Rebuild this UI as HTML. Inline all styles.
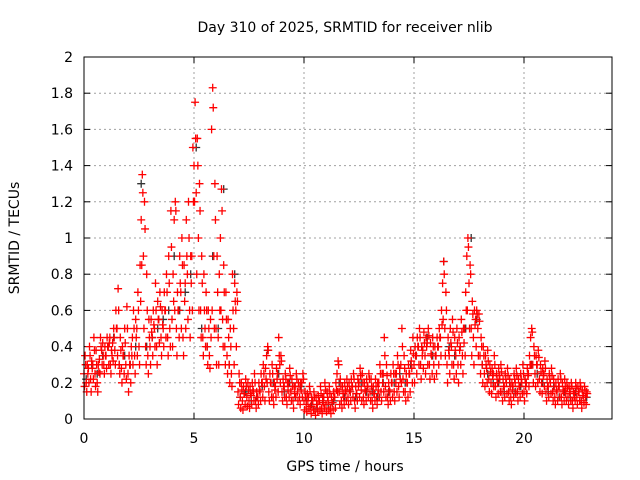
<!DOCTYPE html>
<html><head><meta charset="utf-8"><style>
body{margin:0;background:#fff}
svg{display:block;font-family:"DejaVu Sans","Liberation Sans",sans-serif}
</style></head><body>
<svg id="chart" width="640" height="480" viewBox="0 0 640 480">
<rect width="640" height="480" fill="#fff"/>
<text x="345" y="32" font-size="14" text-anchor="middle" fill="#000">Day 310 of 2025, SRMTID for receiver nlib</text>
<text x="345" y="471" font-size="14" text-anchor="middle" fill="#000">GPS time / hours</text>
<text x="19" y="238" font-size="14" text-anchor="middle" fill="#000" transform="rotate(-90 19 238)">SRMTID / TECUs</text>
<g id="grid"></g>
<g id="ticks"></g>
<g id="marks"></g>
<rect x="84" y="57" width="528" height="362" fill="none" stroke="#000" stroke-width="1"/>
</svg>
<script>
const xTicks=[0,5,10,15,20];
const yTicks=[0,0.2,0.4,0.6,0.8,1,1.2,1.4,1.6,1.8,2];
const yTickLabels=["0","0.2","0.4","0.6","0.8","1","1.2","1.4","1.6","1.8","2"];
const seriesMid=[.25,.2,.28,.22,.3,.25,.2,.33,.38,.3,
.35,.4,.3,.42,.38,.5,.3,.28,.35,.3,
.25,.3,.45,.35,.5,.4,1.1,.9,.4,.35,
.4,.45,.5,.4,.55,.45,.5,.6,.45,.5,
.55,1.1,.5,.6,.7,.45,.75,.8,.6,.9,
1.4,1.25,1.0,.6,.45,.5,.4,.35,1.6,.9,
.5,.45,1.0,.55,.4,.35,.3,.25,.5,.6,
.15,.12,.1,.14,.12,.1,.13,.15,.1,.12,
.15,.2,.18,.35,.15,.2,.12,.18,.25,.3,
.15,.18,.12,.2,.15,.1,.18,.15,.12,.2,
.1,.08,.12,.07,.1,.05,.08,.1,.06,.12,
.08,.1,.06,.09,.12,.25,.15,.1,.12,.15,
.12,.15,.18,.1,.14,.2,.16,.12,.15,.18,
.15,.1,.14,.12,.2,.15,.25,.18,.12,.15,
.2,.15,.25,.18,.3,.22,.15,.2,.25,.28,
.3,.35,.4,.3,.38,.35,.42,.3,.35,.3,
.35,.4,.45,.75,.5,.3,.35,.4,.3,.35,
.3,.4,.35,.5,.9,.75,.5,.45,.55,.5,
.35,.3,.25,.28,.22,.2,.25,.18,.2,.22,
.15,.18,.2,.15,.12,.18,.2,.15,.18,.2,
.15,.2,.25,.45,.3,.25,.3,.22,.2,.25,
.15,.18,.2,.15,.12,.15,.18,.12,.15,.14,
.12,.15,.1,.14,.12,.15,.1,.13,.12];
const seriesHigh=[.35,.3,.4,.32,.45,.38,.3,.45,.42,.4,
.45,.42,.38,.5,.6,.72,.45,.4,.5,.62,
.35,.4,.6,.55,.7,.85,1.35,1.2,.8,.55,
.55,.6,.75,.65,.7,.6,.7,.8,.9,1.15,
.8,1.2,.7,.9,1.0,.85,1.1,1.2,.9,1.5,
1.75,1.55,1.3,.9,.8,.7,.6,.55,1.83,1.3,
.9,.8,1.27,.85,.7,.55,.5,.8,.75,.7,
.25,.2,.18,.22,.2,.18,.2,.25,.15,.2,
.25,.3,.28,.4,.25,.3,.2,.28,.45,.35,
.22,.25,.2,.28,.22,.18,.25,.2,.2,.25,
.15,.14,.18,.12,.15,.12,.13,.18,.12,.2,
.15,.18,.12,.15,.2,.32,.22,.18,.2,.22,
.2,.22,.25,.18,.22,.28,.25,.2,.22,.25,
.22,.18,.22,.2,.3,.25,.45,.3,.2,.25,
.3,.25,.35,.28,.5,.35,.25,.3,.38,.45,
.4,.45,.5,.4,.48,.45,.5,.42,.45,.4,
.45,.5,.6,.87,.7,.45,.5,.55,.45,.5,
.45,.55,.5,.7,1.0,.85,.65,.6,.6,.58,
.45,.4,.35,.38,.3,.28,.35,.25,.28,.3,
.22,.25,.28,.22,.2,.25,.28,.22,.25,.3,
.22,.28,.35,.5,.4,.35,.38,.3,.28,.32,
.22,.25,.28,.22,.2,.22,.25,.2,.22,.2,
.18,.2,.15,.2,.18,.2,.16,.18,.15];
const seriesSpread=[.3,.25,.35,.28,.38,.3,.26,.4,.35,.35,
.4,.45,.35,.45,.5,.6,.38,.35,.42,.5,
.3,.35,.5,.45,.6,.65,1.25,1.05,.6,.45,
.48,.52,.6,.55,.62,.52,.6,.7,.75,.95,
.65,1.15,.6,.75,.85,.65,.9,1.0,.75,1.2,
1.55,1.4,1.15,.75,.6,.6,.5,.45,1.72,1.1,
.7,.6,1.15,.7,.55,.45,.4,.6,.65,.65,
.2,.16,.14,.18,.16,.14,.16,.2,.12,.16,
.2,.25,.22,.38,.2,.25,.16,.22,.35,.32,
.18,.22,.16,.24,.18,.14,.22,.18,.16,.22,
.12,.1,.15,.1,.12,.08,.1,.14,.09,.16,
.12,.14,.09,.12,.16,.3,.18,.14,.16,.18,
.16,.18,.22,.14,.18,.24,.2,.16,.18,.22,
.18,.14,.18,.16,.25,.2,.35,.24,.16,.2,
.25,.2,.3,.22,.4,.28,.2,.25,.32,.36,
.35,.4,.45,.35,.42,.4,.46,.36,.4,.35,
.4,.45,.52,.8,.6,.38,.42,.48,.38,.42,
.38,.48,.42,.6,.95,.8,.58,.52,.58,.54,
.4,.35,.3,.32,.26,.24,.3,.22,.24,.26,
.18,.22,.24,.18,.16,.22,.24,.18,.22,.25,
.18,.24,.3,.48,.35,.3,.34,.26,.24,.28,
.18,.22,.24,.18,.16,.18,.22,.16,.18,.17,
.15,.18,.12,.17,.15,.18,.13,.16,.14];
const seriesLow=[.18,.15,.2,.15,.22,.18,.15,.25,.3,.25,
.28,.3,.25,.32,.3,.35,.25,.2,.25,.22,
.15,.2,.3,.25,.35,.3,.85,.5,.3,.25,
.3,.35,.4,.3,.42,.35,.4,.45,.35,.4,
.4,.6,.35,.45,.5,.35,.5,.55,.45,.6,
1.2,.8,.6,.45,.35,.4,.3,.28,.6,.5,
.3,.3,.6,.4,.3,.25,.2,.18,.3,.4,
.08,.06,.05,.08,.07,.06,.08,.1,.06,.08,
.1,.12,.1,.2,.1,.12,.08,.12,.15,.2,
.1,.12,.08,.12,.1,.06,.12,.1,.08,.12,
.05,.04,.06,.03,.05,.02,.04,.05,.03,.06,
.04,.05,.03,.05,.06,.15,.08,.06,.08,.1,
.08,.1,.12,.06,.1,.12,.1,.08,.1,.12,
.1,.06,.1,.08,.12,.1,.15,.12,.08,.1,
.12,.1,.15,.12,.2,.15,.1,.12,.15,.2,
.2,.25,.3,.22,.28,.25,.3,.22,.25,.22,
.25,.3,.35,.55,.35,.2,.25,.3,.22,.25,
.2,.3,.25,.35,.6,.5,.35,.3,.4,.35,
.25,.2,.18,.2,.15,.14,.18,.12,.14,.15,
.1,.12,.14,.1,.08,.12,.14,.1,.12,.14,
.1,.14,.18,.3,.2,.18,.2,.15,.14,.18,
.1,.12,.14,.1,.08,.1,.12,.08,.1,.1,
.08,.1,.06,.1,.08,.1,.06,.09,.08];
const seriesBlack=[.22,.3,.25,.35,.4,.45,.3,.35,.3,.4,1.3,.4,.45,.5,.55,.6,
.9,.6,.7,.8,1.5,.5,.4,.9,.5,1.27,.3,.8,.12,.15,.1,.12,.18,.38,.2,.25,
.15,.2,.12,.18,.1,.08,.06,.1,.08,.1,.2,.12,.15,.12,.2,.15,.15,.12,.2,.15,
.2,.25,.2,.3,.35,.4,.45,.35,.4,.87,.4,.35,.4,.5,1.0,.55,.3,.25,.2,.2,
.15,.2,.15,.18,.2,.3,.25,.2,.15,.18,.12,.15,.12,.15,.1,.12];
const X0=84,X1=612,Y0=419,Y1=57;
const xs=t=>X0+t/24*(X1-X0);
const ys=v=>Y0-v/2*(Y0-Y1);
const NS="http://www.w3.org/2000/svg";
const grid=document.getElementById('grid'),ticks=document.getElementById('ticks'),marks=document.getElementById('marks');
function mk(tag,attrs,parent){const e=document.createElementNS(NS,tag);for(const k in attrs)e.setAttribute(k,attrs[k]);parent.appendChild(e);return e;}
yTicks.forEach((v,i)=>{const y=ys(v);
 if(v>0&&v<2){const g=mk('line',{x1:X0,x2:X1,y1:y,y2:y,stroke:'#a0a0a0','stroke-dasharray':'2,3','stroke-width':1},grid);
 
 }
 mk('line',{x1:X0,x2:X0+6,y1:y,y2:y,stroke:'#000'},ticks);
 mk('line',{x1:X1,x2:X1-6,y1:y,y2:y,stroke:'#000'},ticks);
 const t=mk('text',{x:73,y:y+5,'font-size':14,'text-anchor':'end',fill:'#000'},ticks);t.textContent=yTickLabels[i];
 
 
});
xTicks.forEach(v=>{const x=xs(v);
 if(v>0){const g=mk('line',{x1:x,x2:x,y1:Y0,y2:Y1,stroke:'#a0a0a0','stroke-dasharray':'2,3','stroke-width':1},grid);
 
 }
 mk('line',{x1:x,x2:x,y1:Y0,y2:Y0-6,stroke:'#000'},ticks);
 mk('line',{x1:x,x2:x,y1:Y1,y2:Y1+6,stroke:'#000'},ticks);
 const t=mk('text',{x:x,y:443,'font-size':14,'text-anchor':'middle',fill:'#000'},ticks);t.textContent=String(v);
 
 
});
function plus(t,v,col){const x=xs(t),y=ys(v);
 const p=mk('path',{d:`M${x-4} ${y}H${x+4}M${x} ${y-4}V${y+4}`,stroke:col,'stroke-width':1.3,fill:'none'},marks);
 
 }
seriesBlack.forEach((v,i)=>plus(i*0.25+0.1,v,'#333'));
seriesMid.forEach((v,i)=>plus(i*0.1,v,'#ff0000'));
seriesHigh.forEach((v,i)=>plus(i*0.1+0.05,v,'#ff0000'));
seriesSpread.forEach((v,i)=>plus(i*0.1+0.075,v,'#ff0000'));
seriesLow.forEach((v,i)=>plus(i*0.1+0.025,v,'#ff0000'));
</script>
</body></html>
